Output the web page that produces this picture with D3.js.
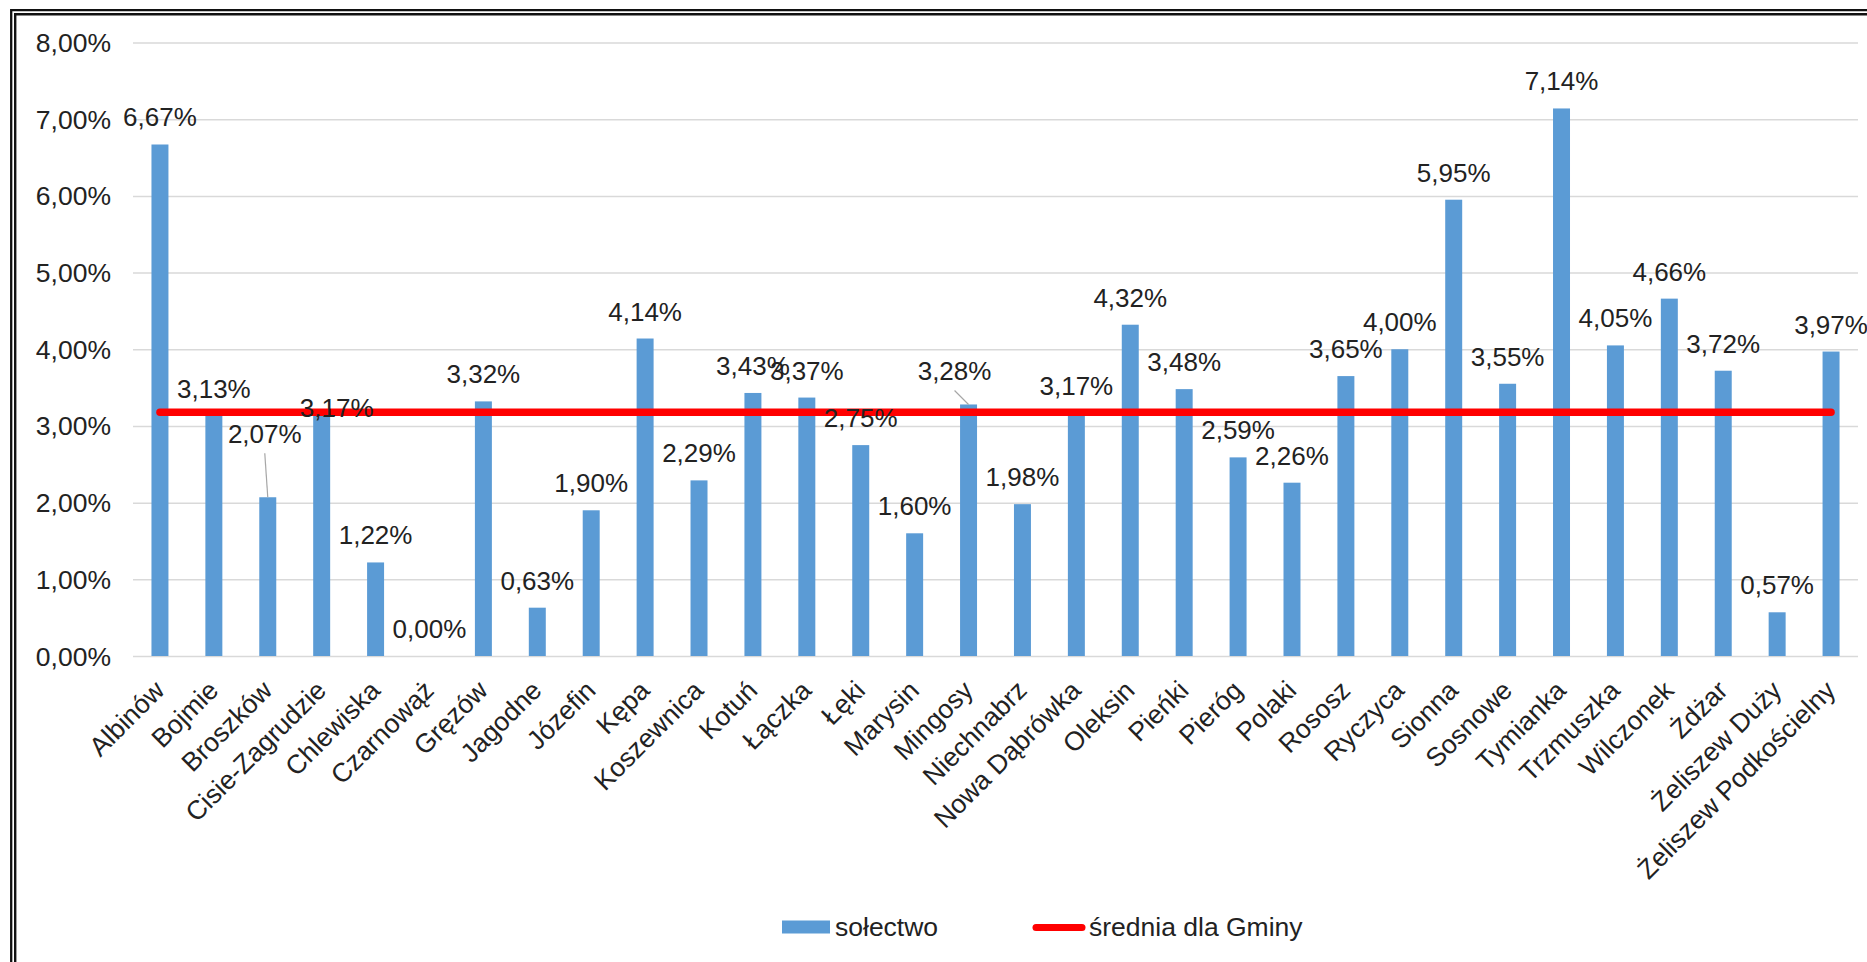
<!DOCTYPE html>
<meta charset="utf-8">
<style>
  body { margin: 0; background: #fff; }
  svg text { font-family: "Liberation Sans", Arial, sans-serif; fill: #222; }
  .grid line { stroke: #d9d9d9; stroke-width: 1.5; }
  .grid text { font-size: 26.5px; }
  .vlabel { font-size: 26px; }
  .cat { font-size: 26.5px; }
  .legend text { font-size: 26.5px; }
</style>
<svg width="1867" height="962"></svg>
<script src="https://d3js.org/d3.v7.min.js"></script>
<script>
// sołectwa (villages)
var categories = ["Albinów", "Bojmie", "Broszków", "Cisie-Zagrudzie", "Chlewiska", "Czarnowąż",
  "Gręzów", "Jagodne", "Józefin", "Kępa", "Koszewnica", "Kotuń", "Łączka", "Łęki", "Marysin",
  "Mingosy", "Niechnabrz", "Nowa Dąbrówka", "Oleksin", "Pieńki", "Pieróg", "Polaki", "Rososz",
  "Ryczyca", "Sionna", "Sosnowe", "Tymianka", "Trzmuszka", "Wilczonek", "Żdżar",
  "Żeliszew Duży", "Żeliszew Podkościelny"];

// share per village, in %
var values = [6.67, 3.13, 2.07, 3.17, 1.22, 0.00, 3.32, 0.63, 1.90, 4.14, 2.29, 3.43, 3.37, 2.75,
  1.60, 3.28, 1.98, 3.17, 4.32, 3.48, 2.59, 2.26, 3.65, 4.00, 5.95, 3.55, 7.14, 4.05, 4.66, 3.72,
  0.57, 3.97];

// gmina average (red line)
var average = 3.18;

var yTicks = [0, 1, 2, 3, 4, 5, 6, 7, 8];

var seriesNames = ["sołectwo", "średnia dla Gminy"];

var svg = d3.select("svg");

var plotLeft = 133, plotRight = 1858, plotTop = 42.5, plotBottom = 656;

var pl = d3.formatLocale({ decimal: ",", thousands: " ", grouping: [3], currency: ["", " zł"] });
var fmt = function(v) { return pl.format(".2f")(v) + "%"; };

var x = d3.scaleBand()
    .domain(categories)
    .range([plotLeft, plotRight])
    .paddingInner(0.685)
    .paddingOuter(0.685 / 2);

var y = d3.scaleLinear()
    .domain([0, 8])
    .range([plotBottom, plotTop]);

var cx = function(c) { return x(c) + x.bandwidth() / 2; };

// outer double frame
svg.append("path").attr("d", "M11.2,962V10.2H1867")
    .attr("fill", "none").attr("stroke", "#111").attr("stroke-width", 2.3);
svg.append("path").attr("d", "M15.2,962V14.2H1867")
    .attr("fill", "none").attr("stroke", "#111").attr("stroke-width", 2.4);

// gridlines + y labels
var grid = svg.append("g")
    .attr("class", "grid")
    .attr("transform", "translate(" + plotLeft + ",0)")
    .call(d3.axisLeft(y)
        .tickValues(yTicks)
        .tickSize(-(plotRight - plotLeft))
        .tickPadding(22)
        .tickFormat(fmt));
grid.select(".domain").remove();
grid.selectAll("text").attr("dy", "0.34em").attr("fill", null);

// bars
svg.append("g")
    .selectAll("rect")
    .data(values)
    .enter()
    .append("rect")
    .attr("x", function(d, i) { return x(categories[i]); })
    .attr("y", function(d) { return y(d); })
    .attr("width", x.bandwidth())
    .attr("height", function(d) { return y(0) - y(d); })
    .attr("fill", "#5b9bd5");

// average line
var avgLine = d3.line()
    .x(function(c) { return cx(c); })
    .y(function() { return y(average); });

svg.append("path")
    .datum(categories)
    .attr("d", avgLine)
    .attr("fill", "none")
    .attr("stroke", "#ff0000")
    .attr("stroke-width", 7.5)
    .attr("stroke-linecap", "round");

// data labels (a few were moved by hand in the original, some with leader lines)
var nudge = {
  "Broszków": { dx: -3, dy: -36, leader: true },
  "Cisie-Zagrudzie": { dx: 15, dy: 22 },
  "Mingosy": { dx: -14, dy: -6, leader: true }
};

var labels = svg.append("g");
values.forEach(function(v, i) {
  var c = categories[i];
  var n = nudge[c] || { dx: 0, dy: 0 };
  var lx = cx(c) + n.dx, ly = y(v) - 18 + n.dy;
  if (n.leader) {
    labels.append("line")
        .attr("x1", lx).attr("y1", ly + 10)
        .attr("x2", cx(c)).attr("y2", y(v))
        .attr("stroke", "#a6a6a6").attr("stroke-width", 1.2);
  }
  labels.append("text")
      .attr("class", "vlabel")
      .attr("x", lx)
      .attr("y", ly)
      .attr("text-anchor", "middle")
      .text(fmt(v));
});

// category labels, rotated
svg.append("g")
    .selectAll("text")
    .data(categories)
    .enter()
    .append("text")
    .attr("class", "cat")
    .attr("text-anchor", "end")
    .attr("transform", function(c) { return "translate(" + (cx(c) + 6) + "," + (plotBottom + 36) + ") rotate(-45)"; })
    .text(function(c) { return c; });

// legend
var legend = svg.append("g").attr("class", "legend");
legend.append("rect")
    .attr("x", 782).attr("y", 920.5)
    .attr("width", 48).attr("height", 13)
    .attr("fill", "#5b9bd5");
legend.append("text")
    .attr("x", 835).attr("y", 936)
    .text(seriesNames[0]);
legend.append("line")
    .attr("x1", 1036).attr("x2", 1082)
    .attr("y1", 927.5).attr("y2", 927.5)
    .attr("stroke", "#ff0000").attr("stroke-width", 7)
    .attr("stroke-linecap", "round");
legend.append("text")
    .attr("x", 1089).attr("y", 936)
    .text(seriesNames[1]);
</script>
